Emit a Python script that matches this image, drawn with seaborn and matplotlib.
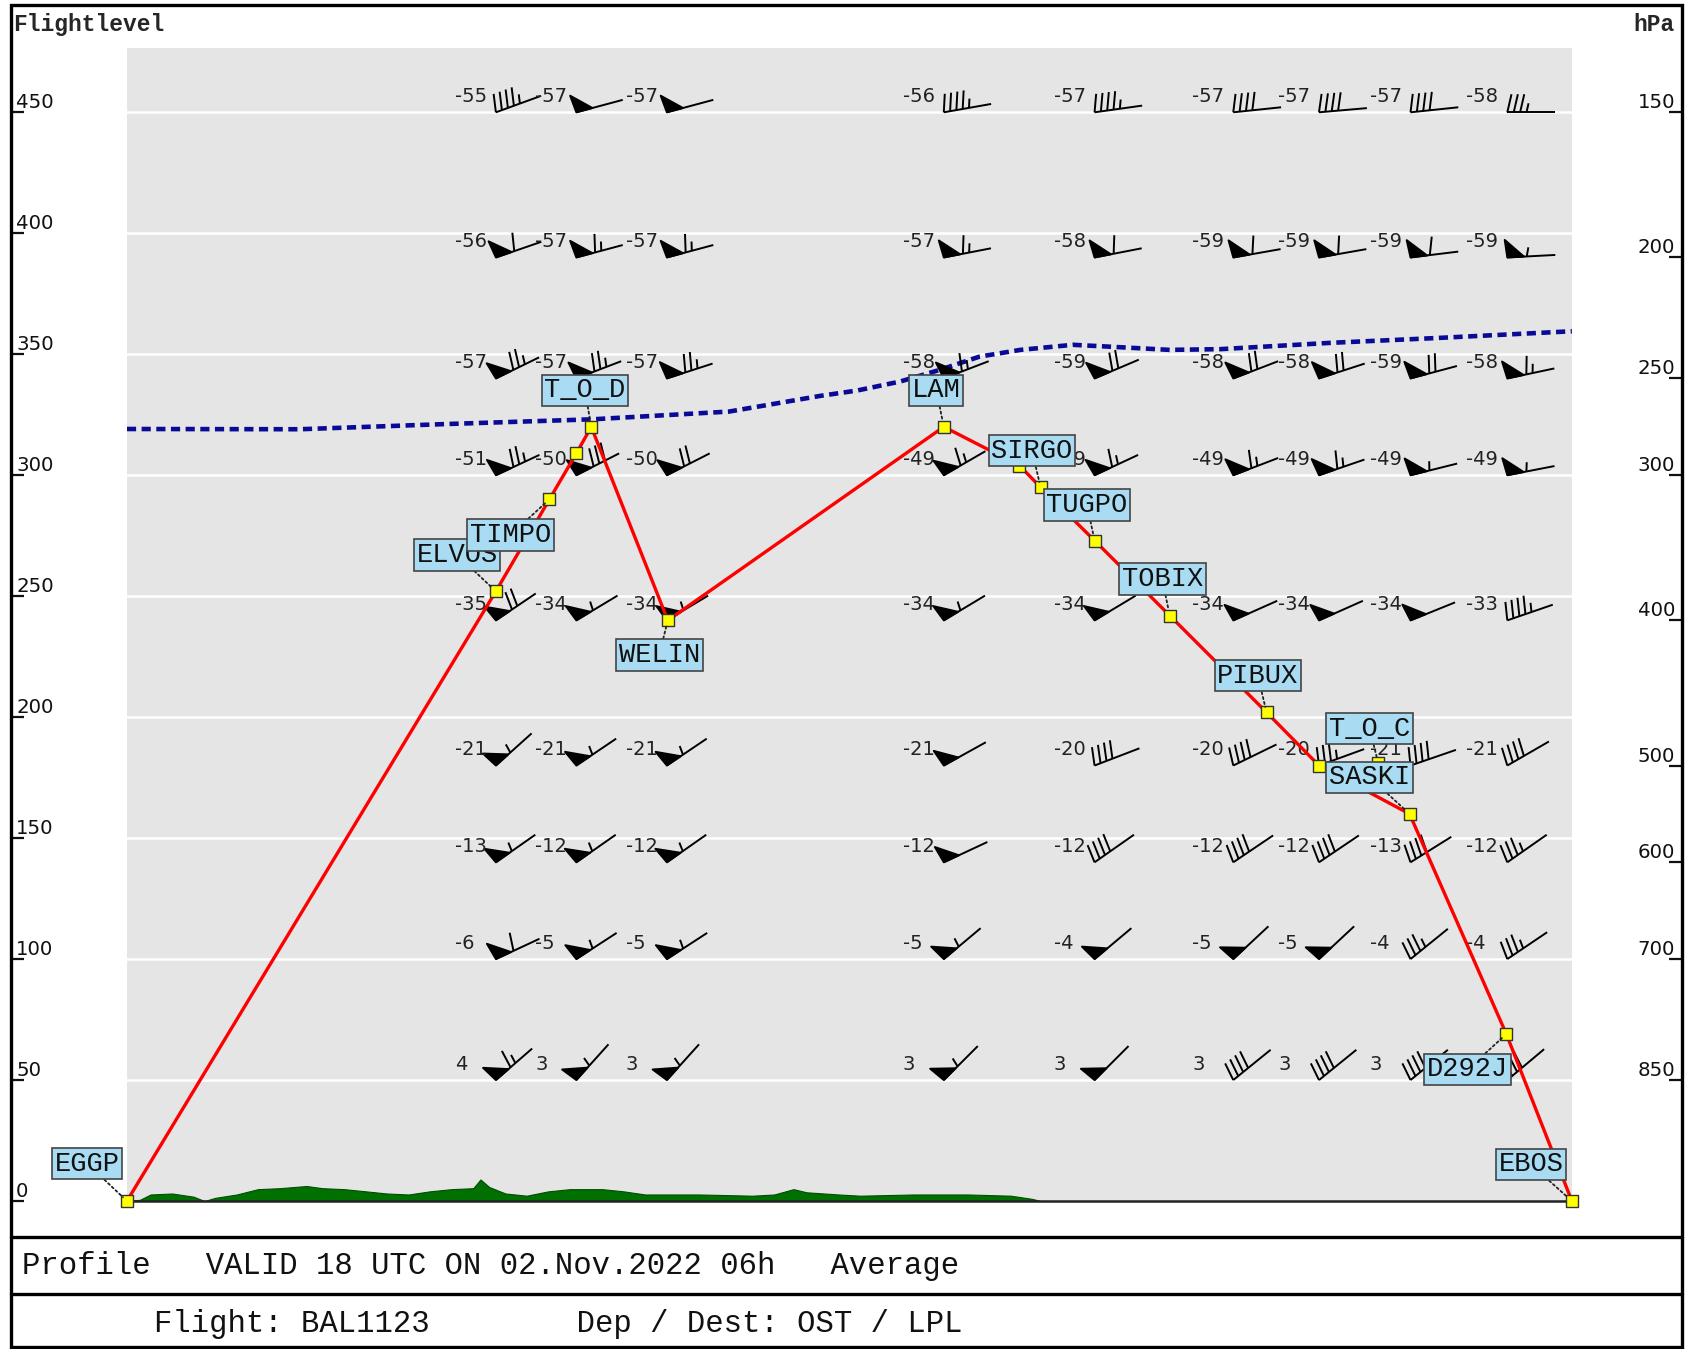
import numpy as np
import matplotlib
matplotlib.use("Agg")
import matplotlib.pyplot as plt
import matplotlib.lines as mlines
import matplotlib.patches as mpatches
import matplotlib.transforms as mtransforms
from matplotlib.collections import PolyCollection
import seaborn as sns

# --- route profile (distance in NM, flight level) ---
wpt_names = ["EGGP", "ELVOS", "TIMPO", "", "T_O_D", "WELIN", "LAM", "", "SIRGO",
             "TUGPO", "TOBIX", "PIBUX", "", "SASKI", "D292J", "EBOS"]
wpt_dist = [0, 76.6, 87.7, 93.3, 96.4, 112.3, 169.6, 185.3, 189.7,
            200.9, 216.5, 236.6, 247.5, 266.3, 286.4, 300]
wpt_fl = [0, 252, 290, 309, 320, 240, 320, 304, 295,
          273, 242, 202, 180, 160, 69, 0]

toc_name = "T_O_C"
toc_dist = 259.8
toc_fl = 181

# --- tropopause ---
trop_dist = [0, 35.9, 65.6, 96.6, 125, 144, 151.6, 160.5, 168.7, 177, 185.5,
             196.4, 206.2, 216.5, 227, 249.8, 271.9, 300]
trop_fl = [319.1, 319, 321.1, 323.1, 326.3, 332.8, 335, 338.7, 343.5, 349, 351.8,
           353.9, 352.9, 351.8, 352.1, 354.7, 356.7, 359.5]

# --- terrain ---
terrain_dist = [0, 2.7, 4.9, 9.4, 13.8, 16.1, 18.3, 22.8, 27.2, 31.7, 37.3, 40.6, 45.1,
                49.6, 54, 58.5, 62.9, 67.4, 71.9, 73.4, 75.2, 78.6, 83, 87.5, 92, 98.7,
                103.1, 107.6, 118.8, 129.9, 134.4, 138.4, 141.1, 147.8, 152.2, 163.4,
                174.6, 183.5, 187.9, 189.7, 300]
terrain_fl = [0, 0.5, 2.7, 3.1, 1.8, 0, 1.3, 2.7, 4.9, 5.3, 6.2, 5.3, 4.9,
              4, 3.1, 2.7, 4, 4.9, 5.3, 8.9, 5.8, 3.1, 2.2, 4, 4.9, 4.9,
              4, 2.7, 2.7, 2.2, 2.7, 4.9, 3.6, 2.7, 2.2, 2.7,
              2.7, 2.2, 0.9, 0, 0]

# --- axes ---
fl_ticks = [0, 50, 100, 150, 200, 250, 300, 350, 400, 450]
hpa_levels = [150, 200, 250, 300, 400, 500, 600, 700, 850]
hpa_fl = [450, 390, 340, 300, 240, 180, 140, 100, 50]

# --- wind / temperature grid (rows = pressure levels, cols = route points) ---
wind_col_dist = [76.6, 93.3, 112.1, 169.6, 200.9, 229.7, 247.5, 266.5, 286.6]
temp = [
    [-55, -57, -57, -56, -57, -57, -57, -57, -58],
    [-56, -57, -57, -57, -58, -59, -59, -59, -59],
    [-57, -57, -57, -58, -59, -58, -58, -59, -58],
    [-51, -50, -50, -49, -49, -49, -49, -49, -49],
    [-35, -34, -34, -34, -34, -34, -34, -34, -33],
    [-21, -21, -21, -21, -20, -20, -20, -21, -21],
    [-13, -12, -12, -12, -12, -12, -12, -13, -12],
    [-6, -5, -5, -5, -4, -5, -5, -4, -4],
    [4, 3, 3, 3, 3, 3, 3, 3, 3],
]
wind_dir = [
    [250, 255, 255, 260, 262, 264, 265, 264, 270],
    [251, 255, 255, 259, 259, 260, 260, 263, 267],
    [244, 249, 252, 249, 247, 249, 252, 255, 258],
    [245, 243, 243, 240, 245, 249, 251, 256, 259],
    [236, 239, 239, 239, 239, 246, 246, 248, 251],
    [228, 236, 236, 241, 249, 244, 250, 251, 240],
    [235, 235, 235, 245, 235, 236, 236, 238, 235],
    [245, 237, 237, 230, 230, 227, 227, 231, 236],
    [229, 222, 222, 225, 225, 231, 231, 231, 230],
]
wind_spd = [
    [45, 50, 50, 45, 45, 40, 40, 40, 35],
    [60, 65, 65, 65, 60, 60, 60, 60, 55],
    [75, 75, 75, 65, 70, 70, 70, 70, 65],
    [75, 80, 70, 65, 65, 65, 65, 55, 55],
    [70, 55, 55, 55, 50, 50, 50, 50, 45],
    [55, 55, 55, 50, 40, 40, 35, 40, 40],
    [55, 55, 55, 50, 40, 40, 40, 40, 35],
    [60, 55, 55, 55, 50, 50, 50, 35, 35],
    [65, 55, 55, 55, 50, 40, 40, 40, 40],
]

# label box offsets (points) relative to the waypoint
label_offset = {
    "EGGP": (-28.6, 27), "ELVOS": (-27.9, 26.3), "TIMPO": (-27.9, -25.5),
    "T_O_D": (-4.6, 26.3), "WELIN": (-6.2, -24.8), "LAM": (-5.4, 26.3),
    "SIRGO": (-6.2, 26.3), "TUGPO": (-5.4, 25.5), "TOBIX": (-5.4, 26.3),
    "PIBUX": (-6.2, 26.3), "T_O_C": (-6.2, 24.8), "SASKI": (-28.6, 26.3),
    "D292J": (-27.9, -25.5), "EBOS": (-29.4, 26.3),
}

ymax = 476.4


def barb_polys(speed, u, v):
    # glyph in points: pennant/feathers start at the station, staff runs downwind
    ang = np.arctan2(v, u)
    d = np.array([np.cos(ang), np.sin(ang)])
    n = np.array([-np.sin(ang), np.cos(ang)])

    def pt(a, p):
        return a * d + p * n

    polys = [[pt(0, 0), pt(34.6, 0)]]
    n_flag, rest = divmod(int(round(speed / 5.0)) * 5, 50)
    n_full, rest = divmod(rest, 10)
    s = 0.0
    for _ in range(n_flag):
        polys.append([pt(s, 0), pt(s - 1.2, 12.7), pt(s + 12, 0)])
        s += 14
    for _ in range(n_full):
        polys.append([pt(s, 0), pt(s + 3, 13)])
        s += 4.6
    if rest >= 5:
        polys.append([pt(s, 0), pt(s + 1.5, 6.5)])
    return polys


sns.set_theme(style="darkgrid", rc={
    "axes.facecolor": "#e5e5e5",
    "grid.color": "white",
    "grid.linewidth": 1.8,
    "figure.facecolor": "white",
})
plt.rcParams["font.family"] = ["DejaVu Sans"]

fig = plt.figure(figsize=(16.86, 13.49), dpi=100)
ax = fig.add_axes([0.0753, 0.1097, 0.857, 0.8544])

# terrain
ax.fill_between(terrain_dist, terrain_fl, 0, color="#007000", lw=0.8,
                edgecolor="#004d00", zorder=1.5)

# tropopause
sns.lineplot(x=trop_dist, y=trop_fl, ax=ax, color="#0a0a96", lw=3.3,
             sort=False, estimator=None, zorder=3)
ax.lines[-1].set_linestyle((0, (2.0, 1.2)))

# wind barbs
polys, offs = [], []
for i, lev in enumerate(hpa_fl):
    for j, dist in enumerate(wind_col_dist):
        spd = wind_spd[i][j]
        rad = np.radians(wind_dir[i][j])
        u, v = -spd * np.sin(rad), -spd * np.cos(rad)
        for p in barb_polys(spd, u, v):
            polys.append(p)
            offs.append((dist, lev))
barbs = PolyCollection(polys, offsets=offs, offset_transform=ax.transData,
                       facecolors="black", edgecolors="black", linewidths=1.4,
                       zorder=4)
barbs.set_transform(mtransforms.Affine2D().scale(fig.dpi / 72.0))
ax.add_collection(barbs, autolim=False)

# temperatures
for i, lev in enumerate(hpa_fl):
    for j, dist in enumerate(wind_col_dist):
        ax.annotate(str(temp[i][j]), (dist, lev), xytext=(-29.5, 11.5),
                    textcoords="offset points", ha="left", va="center",
                    fontsize=14, color="#222222", zorder=4)

# flight profile
sns.lineplot(x=wpt_dist, y=wpt_fl, ax=ax, color="red", lw=2.4,
             sort=False, estimator=None, zorder=5)
mk_dist = wpt_dist + [toc_dist]
mk_fl = wpt_fl + [toc_fl]
mk_names = wpt_names + [toc_name]
sns.scatterplot(x=mk_dist, y=mk_fl, ax=ax, marker="s", s=72, color="#ffff00",
                edgecolor="#333333", linewidth=1.0, zorder=6)
ax.collections[-1].set_clip_on(False)

for name, dist, f in zip(mk_names, mk_dist, mk_fl):
    if not name:
        continue
    ax.annotate(name, (dist, f), xytext=label_offset[name], textcoords="offset points",
                ha="center", va="center", fontsize=19.5, family="Liberation Mono",
                color="#111111", zorder=8, annotation_clip=False,
                bbox=dict(boxstyle="square,pad=0.1", fc="#a9dcf2", ec="#444444", lw=1.2),
                arrowprops=dict(arrowstyle="-", color="#222222", lw=1.3,
                                linestyle=(0, (1.2, 1.6)), shrinkA=0, shrinkB=4))

ax.set_xlim(0, 300)
ax.set_ylim(0, ymax)
ax.set_xticks([])
ax.set_yticks(fl_ticks)
ax.tick_params(left=False, labelleft=False, bottom=False, labelbottom=False)
ax.grid(axis="x", visible=False)
ax.set_xlabel("")
ax.set_ylabel("")
for side in ["top", "left", "right"]:
    ax.spines[side].set_visible(False)
ax.spines["bottom"].set_visible(True)
ax.spines["bottom"].set_color("#222222")
ax.spines["bottom"].set_linewidth(1.8)

# left (flight level) and right (hPa) scales on the outer frame
ax_t = fig.add_axes([11 / 1686, 0.1097, (1682 - 11) / 1686, 0.8544], facecolor="none")
ax_t.grid(False)
ax_t.set_xticks([])
ax_t.set_ylim(0, ymax)
ax_t.set_yticks(fl_ticks, labels=[str(t) for t in fl_ticks])
ax_t.tick_params(axis="y", left=True, direction="in", length=9.4, width=1.6,
                 pad=-3.6, labelsize=14.2, colors="#111111")
for lab in ax_t.get_yticklabels():
    lab.set_ha("left")
    lab.set_va("bottom")
for sp in ax_t.spines.values():
    sp.set_visible(False)

ax_r = ax_t.twinx()
ax_r.grid(False)
ax_r.set_ylim(0, ymax)
ax_r.set_yticks(hpa_fl, labels=[str(h) for h in hpa_levels])
ax_r.tick_params(axis="y", right=True, labelright=True, direction="in", length=9.4,
                 width=1.6, pad=-5, labelsize=14.2, colors="#111111")
for lab in ax_r.get_yticklabels():
    lab.set_ha("right")
    lab.set_va("bottom")
for sp in ax_r.spines.values():
    sp.set_visible(False)

# frame and footer
fig.add_artist(mpatches.Rectangle((11 / 1686, 0.0015), (1682 - 11) / 1686, 0.9945,
                                  transform=fig.transFigure, fill=False,
                                  lw=2.4, edgecolor="black"))
for yy in [0.0833, 0.0405]:
    fig.add_artist(mlines.Line2D([11 / 1686, 1682 / 1686], [yy, yy],
                                 transform=fig.transFigure, color="black", lw=2.4))

fig.text(0.0077, 0.9817, "Flightlevel", family="Liberation Mono", fontweight="bold",
         fontsize=16.5, va="center", ha="left")
fig.text(0.9935, 0.9817, "hPa", family="Liberation Mono", fontweight="bold",
         fontsize=16.5, va="center", ha="right")
fig.text(0.0128, 0.0618, "Profile   VALID 18 UTC ON 02.Nov.2022 06h   Average",
         family="Liberation Mono", fontsize=22.05, va="center", ha="left", color="#111111")
fig.text(0.0913, 0.0188, "Flight: BAL1123        Dep / Dest: OST / LPL",
         family="Liberation Mono", fontsize=22.05, va="center", ha="left", color="#111111")

fig.savefig("out.png", dpi=100)
